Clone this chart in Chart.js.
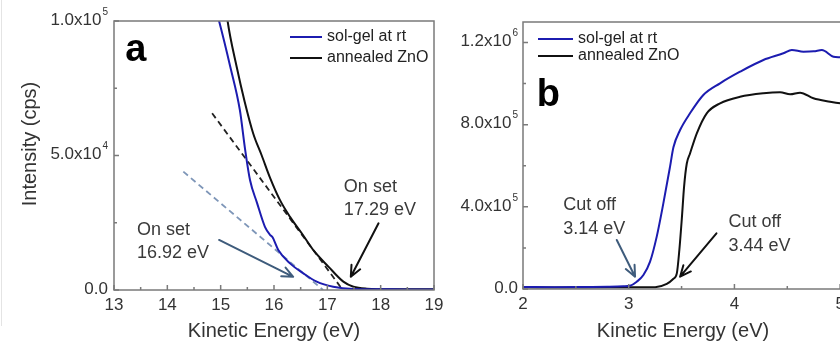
<!DOCTYPE html>
<html><head><meta charset="utf-8">
<script src="https://cdn.jsdelivr.net/npm/chart.js@4"></script>
<style>
html,body{margin:0;padding:0;background:#fff;width:840px;height:342px;overflow:hidden}
#wrap{position:relative;width:840px;height:342px;overflow:hidden;background:#fff}
#edge{position:absolute;left:1px;top:0;width:1px;height:326px;background:#e4e4e4}
#ca{position:absolute;left:0;top:0}
#cb{position:absolute;left:440px;top:0}
</style></head><body>
<div id="wrap">
<div id="edge"></div>
<canvas id="ca" width="450" height="342"></canvas>
<canvas id="cb" width="470" height="342"></canvas>
</div>
<script>
// ---------- data ----------
const seriesNames = ['sol-gel at rt', 'annealed ZnO'];

// panel a (secondary electron onset region)
const aSolGelE = [14.90,14.97,15.18,15.36,15.46,15.55,15.68,15.83,15.93,15.97,16.08,16.30,16.55,16.80,17.11,17.49,18.0,18.5,19.0];
const aSolGelI = [105000,100000,83000,66900,52000,40900,32500,23500,20400,19700,14900,9900,6200,3100,1200,400,300,200,200];
const aAnnealE = [15.10,15.13,15.30,15.45,15.61,15.77,15.93,16.11,16.30,16.52,16.75,17.02,17.30,17.49,17.74,18.2,19.0];
const aAnnealI = [105000,100000,83000,70000,58200,50000,41500,33500,27200,21100,14500,8700,3100,1200,500,300,300];
const aFitSolGelE = [14.30, 16.92];
const aFitSolGelI = [44000, 0];
const aFitAnnealE = [14.84, 17.29];
const aFitAnnealI = [65700, 0];
const aXTicks = [13,14,15,16,17,18,19];
const aXMinor = [13.5,14.5,15.5,16.5,17.5,18.5];
const aYTicks = [0, 50000, 100000];
const aYMant = ['0.0', '5.0', '1.0'];
const aYExp = ['', '4', '5'];
const aYMinor = [25000, 75000];
const aNoteText = [['On set','16.92 eV'], ['On set','17.29 eV']];

// panel b (cut-off region)
const bSolGelE = [2.0,2.3,2.6,2.8,2.95,3.013,3.076,3.139,3.202,3.265,3.328,3.391,3.423,3.486,3.580,3.706,3.864,4.053,4.274,4.463,4.543,4.653,4.75,4.827,4.937,5.0,5.2,5.5];
const bSolGelI = [10000,9000,10000,11000,13000,16000,35500,68000,133000,255000,418000,596000,690000,774000,855500,944600,1001600,1058000,1115000,1147600,1164000,1155500,1157000,1164000,1131000,1128000,1120000,1110000];
const bAnnealE = [2.0,2.4,2.8,3.1,3.25,3.36,3.423,3.455,3.479,3.502,3.524,3.549,3.580,3.644,3.738,3.864,4.053,4.274,4.432,4.527,4.621,4.747,4.905,5.0,5.2,5.5];
const bAnnealI = [8000,7000,8000,8000,9000,25000,50000,76000,190000,340000,500000,610000,660000,758000,855500,904000,936000,953000,958000,948000,956000,928500,912000,904000,895000,885000];
const bXTicks = [2,3,4,5];
const bXMinor = [2.5,3.5,4.5,5.5];
const bYTicks = [0, 400000, 800000, 1200000];
const bYMant = ['0.0', '4.0', '8.0', '1.2'];
const bYExp = ['', '5', '5', '6'];
const bYMinor = [200000, 600000, 1000000];
const bNoteText = [['Cut off','3.14 eV'], ['Cut off','3.44 eV']];

// ---------- drawing ----------
const FONT = "'Liberation Sans', Arial, Helvetica, sans-serif";
const BLUE = '#1c1cb0', BLACK = '#111111', FITBLUE = '#7e96b8', ARROWBLUE = '#3f5c7c';
const pts = (xs, ys) => xs.map((x, i) => ({x, y: ys[i]}));

function drawSup(ctx, mant, exp, xRight, yMid) {
  const base = exp ? mant + 'x10' : mant;
  ctx.font = `17px ${FONT}`;
  const w1 = ctx.measureText(base).width;
  let w2 = 0;
  if (exp) { ctx.font = `10px ${FONT}`; w2 = ctx.measureText(exp).width + 1; }
  const x0 = xRight - w1 - w2;
  ctx.textAlign = 'left'; ctx.textBaseline = 'middle';
  ctx.font = `17px ${FONT}`;
  ctx.fillText(base, x0, yMid);
  if (exp) { ctx.font = `10px ${FONT}`; ctx.fillText(exp, x0 + w1 + 1, yMid - 8); }
}

function arrow(ctx, x0, y0, x1, y1, color) {
  const a = Math.atan2(y1 - y0, x1 - x0), len = 12, ang = 0.42;
  ctx.strokeStyle = color; ctx.lineWidth = 2; ctx.lineCap = 'round'; ctx.lineJoin = 'round';
  ctx.beginPath();
  ctx.moveTo(x0, y0); ctx.lineTo(x1, y1);
  ctx.moveTo(x1 - len * Math.cos(a - ang), y1 - len * Math.sin(a - ang));
  ctx.lineTo(x1, y1);
  ctx.lineTo(x1 - len * Math.cos(a + ang), y1 - len * Math.sin(a + ang));
  ctx.stroke();
}

const decor = {
  id: 'decor',
  afterDraw(chart, args, o) {
    const {ctx, chartArea: ca} = chart;
    const xs = chart.scales.x, ys = chart.scales.y;
    const px = v => xs.getPixelForValue(v), py = v => ys.getPixelForValue(v);
    ctx.save();
    // frame
    ctx.strokeStyle = '#7a7a7a'; ctx.lineWidth = 1.5;
    ctx.strokeRect(ca.left, ca.top, ca.right - ca.left, ca.bottom - ca.top);
    // inward ticks
    ctx.beginPath();
    o.xMajor.forEach(v => { const x = px(v); ctx.moveTo(x, ca.bottom); ctx.lineTo(x, ca.bottom - 5); });
    o.xMinor.forEach(v => { const x = px(v); ctx.moveTo(x, ca.bottom); ctx.lineTo(x, ca.bottom - 3); });
    o.yMajor.forEach(v => { const y = py(v); ctx.moveTo(ca.left, y); ctx.lineTo(ca.left + 5, y); });
    o.yMinor.forEach(v => { const y = py(v); ctx.moveTo(ca.left, y); ctx.lineTo(ca.left + 3, y); });
    ctx.stroke();
    // y tick labels with superscript exponents
    ctx.fillStyle = '#333';
    o.yMajor.forEach((v, i) => drawSup(ctx, o.yMant[i], o.yExp[i], ca.left - o.yGap, py(v) - 1));
    // axis titles
    ctx.font = `20px ${FONT}`; ctx.textAlign = 'center'; ctx.textBaseline = 'middle'; ctx.fillStyle = '#333';
    ctx.fillText(o.xTitle, ca.left + 160, 331);
    if (o.yTitle) {
      ctx.save(); ctx.translate(o.yTitlePos[0], o.yTitlePos[1]); ctx.rotate(-Math.PI / 2);
      ctx.fillText(o.yTitle, 0, 0); ctx.restore();
    }
    // panel letter
    ctx.font = `bold 38px ${FONT}`; ctx.textAlign = 'left'; ctx.textBaseline = 'alphabetic'; ctx.fillStyle = '#000';
    ctx.fillText(o.letter, px(o.letterAt[0]), py(o.letterAt[1]));
    // legend
    ctx.font = `16px ${FONT}`; ctx.textBaseline = 'middle';
    [BLUE, BLACK].forEach((c, i) => {
      const y = ca.top + o.legTop + i * o.legGap;
      ctx.strokeStyle = c; ctx.lineWidth = 2;
      ctx.beginPath(); ctx.moveTo(ca.left + o.legX, y); ctx.lineTo(ca.left + o.legX + o.legLen, y); ctx.stroke();
      ctx.fillStyle = '#222';
      ctx.fillText(seriesNames[i], ca.left + o.legX + o.legLen + 5, y);
    });
    // annotation notes
    ctx.font = `18px ${FONT}`; ctx.textBaseline = 'alphabetic'; ctx.fillStyle = '#3a3a3a';
    o.notes.forEach((lines, i) => {
      const x = px(o.noteAt[i][0]), y = py(o.noteAt[i][1]);
      lines.forEach((t, j) => ctx.fillText(t, x, y + j * o.noteGap));
    });
    // arrows
    o.arrowFrom.forEach((f, i) => {
      arrow(ctx, px(f[0]), py(f[1]), px(o.arrowTo[i][0]), py(o.arrowTo[i][1]), o.arrowColor[i]);
    });
    ctx.restore();
  }
};

function makeChart(id, cfg) {
  return new Chart(document.getElementById(id), {
    type: 'line',
    data: { datasets: cfg.datasets },
    options: {
      responsive: false, animation: false, devicePixelRatio: 1,
      layout: { padding: cfg.pad },
      plugins: { legend: { display: false }, tooltip: { enabled: false }, decor: cfg.decor },
      elements: { point: { radius: 0 }, line: { cubicInterpolationMode: 'monotone' } },
      scales: {
        x: {
          type: 'linear', min: cfg.xMin, max: cfg.xMax,
          grid: { display: false, drawTicks: false }, border: { display: false },
          afterFit: s => { s.height = cfg.xH; },
          afterBuildTicks: s => { s.ticks = cfg.xTicks.map(v => ({ value: v })); },
          ticks: { font: { family: FONT, size: 17 }, color: '#333', padding: 5, maxRotation: 0, autoSkip: false,
                   callback: v => String(v) }
        },
        y: {
          type: 'linear', min: cfg.yMin, max: cfg.yMax,
          grid: { display: false, drawTicks: false }, border: { display: false },
          ticks: { display: false },
          afterFit: s => { s.width = cfg.yW; }
        }
      }
    },
    plugins: [decor]
  });
}

makeChart('ca', {
  xMin: 13, xMax: 19, yMin: 0, yMax: 100000, xTicks: aXTicks,
  pad: { left: 0, right: 16, top: 21, bottom: 0 }, xH: 52, yW: 114,
  datasets: [
    { data: pts(aSolGelE, aSolGelI), borderColor: BLUE, borderWidth: 2 },
    { data: pts(aAnnealE, aAnnealI), borderColor: BLACK, borderWidth: 2 },
    { data: pts(aFitSolGelE, aFitSolGelI), borderColor: FITBLUE, borderWidth: 1.8, borderDash: [6, 4] },
    { data: pts(aFitAnnealE, aFitAnnealI), borderColor: '#222', borderWidth: 1.8, borderDash: [6, 4] }
  ],
  decor: {
    xMajor: aXTicks, xMinor: aXMinor, yMajor: aYTicks, yMinor: aYMinor, yMant: aYMant, yExp: aYExp, yGap: 6,
    xTitle: 'Kinetic Energy (eV)', yTitle: 'Intensity (cps)', yTitlePos: [30, 144],
    letter: 'a', letterAt: [13.21, 85100],
    legX: 176, legLen: 32, legTop: 16, legGap: 21,
    notes: aNoteText, noteAt: [[13.43, 20400], [17.31, 36500]], noteGap: 23,
    arrowFrom: [[14.97, 18600], [17.96, 24800]], arrowTo: [[16.36, 4900], [17.44, 4900]],
    arrowColor: [ARROWBLUE, BLACK]
  }
});

makeChart('cb', {
  xMin: 2, xMax: 5.5, yMin: 0, yMax: 1300000, xTicks: bXTicks,
  pad: { left: 0, right: 17, top: 22, bottom: 0 }, xH: 53, yW: 83,
  datasets: [
    { data: pts(bSolGelE, bSolGelI), borderColor: BLUE, borderWidth: 2 },
    { data: pts(bAnnealE, bAnnealI), borderColor: BLACK, borderWidth: 2 }
  ],
  decor: {
    xMajor: bXTicks, xMinor: bXMinor, yMajor: bYTicks, yMinor: bYMinor, yMant: bYMant, yExp: bYExp, yGap: 5,
    xTitle: 'Kinetic Energy (eV)', yTitle: null,
    letter: 'b', letterAt: [2.13, 891000],
    legX: 15, legLen: 35, legTop: 17, legGap: 17,
    notes: bNoteText, noteAt: [[2.381, 384700], [3.943, 303300]], noteGap: 24,
    arrowFrom: [[2.887, 238600], [3.83, 271000]], arrowTo: [[3.06, 59900], [3.486, 59900]],
    arrowColor: [ARROWBLUE, BLACK]
  }
});
</script>
</body></html>
